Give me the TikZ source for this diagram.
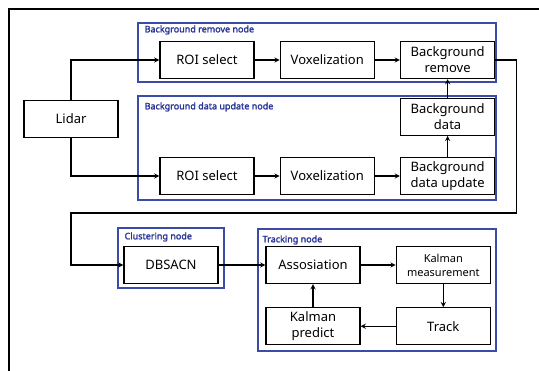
\documentclass[tikz,border=0pt]{standalone}
\usepackage{fontspec}
\setmainfont{Noto Sans}[AutoFakeBold=2]
\usetikzlibrary{positioning}
\definecolor{nodeblue}{RGB}{58,76,168}
\definecolor{labelblue}{RGB}{40,52,150}

\tikzset{
    block/.style={draw,line width=1.3pt,minimum width=94pt,minimum height=37pt,inner sep=1pt,align=center,font=\fontsize{13}{16}\selectfont},
    group/.style={draw=nodeblue,line width=1.2pt},
    grouplabel/.style={anchor=west,inner sep=1pt,text=labelblue,font=\bfseries\fontsize{9}{10}\selectfont}
}

\begin{document}
\begin{tikzpicture}[x=1pt,y=-1pt,->,>=stealth,line width=1.3pt,node distance=25pt]
    \useasboundingbox (0,0) rectangle (539,371);
    \draw[-,line width=1.1pt] (9,371) -- (9,9) -- (539,9);

    % node groups
    \draw[group] (138,23) rectangle (496,82);
    \node[grouplabel] (remlabel) at (143,30) {Background remove node};
    \draw[group] (138,96) rectangle (496,200);
    \node[grouplabel] (updlabel) at (143,107) {Background data update node};
    \draw[group] (118,228) rectangle (224,288);
    \node[grouplabel] (clulabel) at (123,237) {Clustering node};
    \draw[group] (258,229) rectangle (496,351);
    \node[grouplabel] (trklabel) at (261,240) {Tracking node};

    \node[block] (lidar) at (71,119) {Lidar};
    \node[block] (roi1) at (207,60) {ROI select};
    \node[block] (vox1) [right=of roi1] {Voxelization};
    \node[block] (bgrem) [right=of vox1] {Background\\remove};
    \node[block] (roi2) at (207,176) {ROI select};
    \node[block] (vox2) [right=of roi2] {Voxelization};
    \node[block] (bgupd) [right=of vox2] {Background\\data update};
    \node[block] (bgdata) [above=21pt of bgupd] {Background\\data};

    \node[block] (dbsacn) at (171,265) {DBSACN};
    \node[block] (assoc) at (313,265) {Assosiation};
    \node[block,font=\fontsize{11}{14}\selectfont] (kmeas) [right=35pt of assoc] {Kalman\\measurement};
    \node[block] (track) [below=23pt of kmeas] {Track};
    \node[block] (kpred) [below=23pt of assoc] {Kalman\\predict};

    \draw (lidar.north) |- (roi1);
    \draw (lidar.south) |- (roi2);
    \draw (roi1) -- (vox1);
    \draw (vox1) -- (bgrem);
    \draw (roi2) -- (vox2);
    \draw (vox2) -- (bgupd);
    \draw (bgupd) -- (bgdata);
    \draw (bgdata) -- (bgrem);
    \draw (bgrem.east) -- ++(21,0) |- (71,213) |- (dbsacn);

    \draw (dbsacn) -- (assoc);
    \draw (assoc) -- (kmeas);
    \draw (kmeas) -- (track);
    \draw (track) -- (kpred);
    \draw (kpred) -- (assoc);
\end{tikzpicture}
\end{document}
